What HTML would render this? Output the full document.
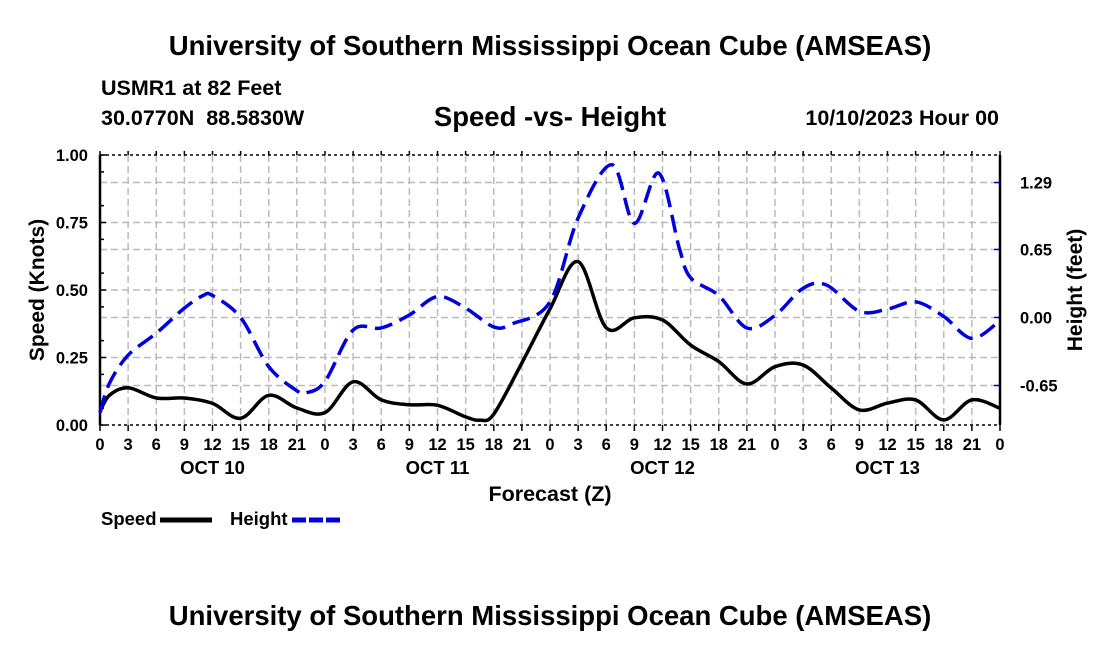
<!DOCTYPE html>
<html><head><meta charset="utf-8"><style>
body{margin:0;background:#fff;}
svg{display:block;font-family:"Liberation Sans",Arial,sans-serif;font-weight:bold;}
</style></head><body>
<svg width="1100" height="650" viewBox="0 0 1100 650">
<text x="550" y="55" font-size="27.5" text-anchor="middle">University of Southern Mississippi Ocean Cube (AMSEAS)</text>
<text x="101" y="95" font-size="21.5">USMR1 at 82 Feet</text>
<text x="101" y="125" font-size="21.5" xml:space="preserve">30.0770N  88.5830W</text>
<text x="550" y="126" font-size="27.5" text-anchor="middle">Speed -vs- Height</text>
<text x="999" y="125" font-size="21.5" text-anchor="end">10/10/2023 Hour 00</text>
<g id="grid"></g>
<g id="axes"></g>
<g id="series"></g>
<text x="550" y="501" font-size="21.5" text-anchor="middle">Forecast (Z)</text>
<text transform="translate(44,290) rotate(-90)" font-size="21" text-anchor="middle">Speed (Knots)</text>
<text transform="translate(1082,290) rotate(-90)" font-size="21" text-anchor="middle">Height (feet)</text>
<g>
<text x="101" y="525" font-size="18.5">Speed</text>
<line x1="160" y1="520" x2="212" y2="520" stroke="#000" stroke-width="5"/></g>
<g>
<text x="230" y="525" font-size="18.5">Height</text>
<line x1="292" y1="520" x2="342" y2="520" stroke="#0000dd" stroke-width="5" stroke-dasharray="14,3"/></g>
<text x="550" y="625" font-size="27.5" text-anchor="middle">University of Southern Mississippi Ocean Cube (AMSEAS)</text>
</svg>
<script>
const speedHours=[0,1,3,6,9,12,15,18,21,24,27,30,33,36,39,40.5,42,45,48,51,54,57,60,63,66,69,72,75,78,81,84,87,90,93,96];
const speedValues=[0.05,0.11,0.138,0.10,0.10,0.08,0.025,0.11,0.063,0.046,0.16,0.093,0.075,0.073,0.03,0.018,0.04,0.23,0.43,0.605,0.36,0.397,0.389,0.296,0.235,0.152,0.216,0.222,0.137,0.056,0.081,0.093,0.019,0.093,0.062];
const heightHours=[0,1,3,6,9,11,12,15,18,21,22,24,27,30,33,36,39,42,44,48,51,54.6,57,59.6,61.8,63,66,69,72,75,77.5,81,84,87,90,93,96];
const heightValues=[-0.91,-0.63,-0.36,-0.15,0.09,0.21,0.21,0.0,-0.47,-0.70,-0.72,-0.61,-0.12,-0.10,0.024,0.20,0.09,-0.09,-0.06,0.15,0.95,1.46,0.90,1.38,0.66,0.38,0.21,-0.10,0.02,0.28,0.31,0.06,0.08,0.15,0.01,-0.20,-0.03];
const speedTicks=["0.00","0.25","0.50","0.75","1.00"];
const heightTicks=["-0.65","0.00","0.65","1.29"];
const hourLabels=["0","3","6","9","12","15","18","21"];
const dayLabels=["OCT 10","OCT 11","OCT 12","OCT 13"];
const X0=100,X1=1000,Y0=425,Y1=155;
const xs=h=>X0+h*(X1-X0)/96;
const ys=v=>Y0-v*(Y0-Y1);
const yh=v=>317.5-v*67.5/0.645;
const NS="http://www.w3.org/2000/svg";
function mk(p,t,a){const e=document.createElementNS(NS,t);for(const k in a)e.setAttribute(k,a[k]);p.appendChild(e);return e;}
const grid=document.getElementById('grid'),axes=document.getElementById('axes'),ser=document.getElementById('series');
for(let i=1;i<32;i++){const x=xs(i*3);
const g=mk(grid,'line',{x1:x,y1:Y1,x2:x,y2:Y0,stroke:'#bbb','stroke-width':1.5,'stroke-dasharray':'7,4'});

}
speedTicks.forEach((t,i)=>{const y=ys(i*0.25);
if(i>0&&i<4){const g=mk(grid,'line',{x1:X0,y1:y,x2:X1,y2:y,stroke:'#bbb','stroke-width':1.5,'stroke-dasharray':'7,4'});

}
const tx=mk(axes,'text',{x:88,y:y+6,'font-size':16.5,'text-anchor':'end'});tx.textContent=t;


mk(axes,'line',{x1:X0,y1:y,x2:X0+6,y2:y,stroke:'#000','stroke-width':1.5});});
for(let i=0;i<8;i++){const y=Y0-(i+0.5)*33.75;mk(axes,'line',{x1:X0,y1:y,x2:X0+4,y2:y,stroke:'#000','stroke-width':1.5});}
heightTicks.forEach(t=>{const y=yh(parseFloat(t));
const g=mk(grid,'line',{x1:X0,y1:y,x2:X1,y2:y,stroke:'#bbb','stroke-width':1.5,'stroke-dasharray':'7,4'});


mk(axes,'line',{x1:X1-6,y1:y,x2:X1,y2:y,stroke:'#0000dd','stroke-width':1.5});
const tx=mk(axes,'text',{x:1020,y:y+6,'font-size':16.5});tx.textContent=t;

});
mk(axes,'line',{x1:X0,y1:Y1,x2:X1,y2:Y1,stroke:'#000','stroke-width':1.5,'stroke-dasharray':'3,3'});
mk(axes,'line',{x1:X0,y1:Y0,x2:X1,y2:Y0,stroke:'#000','stroke-width':1.5,'stroke-dasharray':'3,3'});
mk(axes,'line',{x1:X0,y1:Y1,x2:X0,y2:Y0,stroke:'#000','stroke-width':2.5});
mk(axes,'line',{x1:X1,y1:Y1,x2:X1,y2:Y0,stroke:'#000','stroke-width':2.5});
for(let i=0;i<=32;i++){const x=xs(i*3);
mk(axes,'line',{x1:x,y1:Y0,x2:x,y2:Y0+6,stroke:'#000','stroke-width':1.5});
mk(axes,'line',{x1:x,y1:Y1-4,x2:x,y2:Y1,stroke:'#000','stroke-width':1.5});
const tx=mk(axes,'text',{x:x,y:Y0+25,'font-size':16.5,'text-anchor':'middle'});tx.textContent=hourLabels[i%8];

}
dayLabels.forEach((d,i)=>{const tx=mk(axes,'text',{x:xs(i*24+12),y:Y0+49,'font-size':18.5,'text-anchor':'middle'});tx.textContent=d;

});
function path(hs,vs,fy){const p=hs.map((h,i)=>[xs(h),fy(vs[i])]);let d='M'+p[0][0]+','+p[0][1];
for(let i=0;i<p.length-1;i++){const a=p[i-1]||p[i],b=p[i],c=p[i+1],e=p[i+2]||c;
d+=' C'+(b[0]+(c[0]-a[0])/6)+','+(b[1]+(c[1]-a[1])/6)+' '+(c[0]-(e[0]-b[0])/6)+','+(c[1]-(e[1]-b[1])/6)+' '+c[0]+','+c[1];}return d;}
const sp=mk(ser,'path',{d:path(speedHours,speedValues,ys),fill:'none',stroke:'#000','stroke-width':3.5});


const hp=mk(ser,'path',{d:path(heightHours,heightValues,yh),fill:'none',stroke:'#0000dd','stroke-width':3.5,'stroke-dasharray':'18,8'});


</script>
</body></html>
